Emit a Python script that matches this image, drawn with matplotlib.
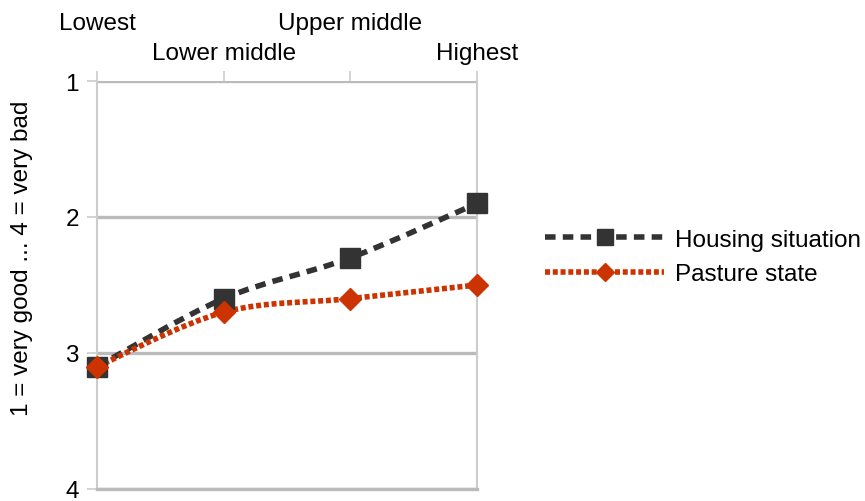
import matplotlib
matplotlib.use('Agg')
import matplotlib.pyplot as plt
import matplotlib.transforms as mtransforms
from matplotlib.path import Path
from matplotlib.patches import PathPatch
from matplotlib.lines import Line2D
import numpy as np

plt.rcParams['font.family'] = ['Liberation Sans', 'DejaVu Sans']

categories = ["Lowest", "Lower middle", "Upper middle", "Highest"]
housing = [3.1, 2.6, 2.3, 1.9]
pasture = [3.1, 2.7, 2.6, 2.5]
y_ticks = [1, 2, 3, 4]
y_label = "1 = very good ... 4 = very bad"

HOUSING_COLOR = "#333333"
PASTURE_COLOR = "#cc3300"
GRID_COLOR = "#bbbbbb"
EDGE_COLOR = "#cccccc"
FS = 17.5
LW = 4.0


def smooth_path(xs, ys):
    # Catmull-Rom style bezier through the points (Excel "smoothed line")
    xs = np.asarray(xs, float)
    ys = np.asarray(ys, float)
    verts = [(xs[0], ys[0])]
    codes = [Path.MOVETO]
    n = len(xs)
    for i in range(n - 1):
        p0 = np.array([xs[max(i - 1, 0)], ys[max(i - 1, 0)]])
        p1 = np.array([xs[i], ys[i]])
        p2 = np.array([xs[i + 1], ys[i + 1]])
        p3 = np.array([xs[min(i + 2, n - 1)], ys[min(i + 2, n - 1)]])
        c1 = p1 + (p2 - p0) / 6.0
        c2 = p2 - (p3 - p1) / 6.0
        verts += [tuple(c1), tuple(c2), tuple(p2)]
        codes += [Path.CURVE4] * 3
    return Path(verts, codes)


fig = plt.figure(figsize=(8.65, 5.02), dpi=100)
ax = fig.add_axes([97 / 865, 12 / 502, 380 / 865, 408 / 502])

x = np.arange(len(categories))

series = [
    ("Housing situation", housing, HOUSING_COLOR, (1.9, 1.3), "s", 14),
    ("Pasture state", pasture, PASTURE_COLOR, (0.9, 0.5), "D", 11),
]

handles = []
for label, vals, color, dash, marker, ms in series:
    patch = PathPatch(smooth_path(x, vals), facecolor="none", edgecolor=color,
                      linewidth=LW, linestyle=(0, dash), capstyle="butt", zorder=3)
    ax.add_patch(patch)
    ax.plot(x, vals, linestyle="none", marker=marker, markersize=ms,
            color=color, zorder=4, clip_on=False)
    handles.append(Line2D([], [], color=color, linewidth=LW, linestyle=(0, dash),
                          dash_capstyle="butt", marker=marker,
                          markersize=ms - 2))

ax.set_xlim(0, len(categories) - 1)
ax.set_ylim(4, 1)
ax.set_yticks(y_ticks)
ax.set_yticklabels([str(t) for t in y_ticks], fontsize=FS)
ax.yaxis.grid(True, color=GRID_COLOR, linewidth=2.4)
ax.set_axisbelow(True)

ax.xaxis.tick_top()
ax.set_xticks(x)
ax.set_xticklabels(categories, fontsize=FS)
ax.tick_params(axis="x", length=7, width=1.2, color=EDGE_COLOR, pad=5)
ax.tick_params(axis="y", length=7, width=1.2, color=EDGE_COLOR, pad=6)

# stagger the category labels in two rows
for i, t in enumerate(ax.get_xticklabels()):
    if i % 2 == 0:
        t.set_transform(t.get_transform() +
                        mtransforms.ScaledTranslation(0, 30 / 100, fig.dpi_scale_trans))

for side in ["left", "right"]:
    ax.spines[side].set_color(EDGE_COLOR)
    ax.spines[side].set_linewidth(1.5)
ax.spines["top"].set_visible(False)
ax.spines["bottom"].set_color(GRID_COLOR)
ax.spines["bottom"].set_linewidth(2.4)

fig.text(22 / 865, 1 - 258 / 502, y_label, rotation=90, fontsize=FS,
         ha="center", va="center")

fig.legend(handles=handles, labels=[s[0] for s in series], loc="center left",
           bbox_to_anchor=(545 / 865, 1 - 258 / 502), frameon=False,
           fontsize=FS, handlelength=4.9, handletextpad=0.45,
           labelspacing=0.5, borderaxespad=0, borderpad=0)

fig.savefig("out.png", dpi=100)
